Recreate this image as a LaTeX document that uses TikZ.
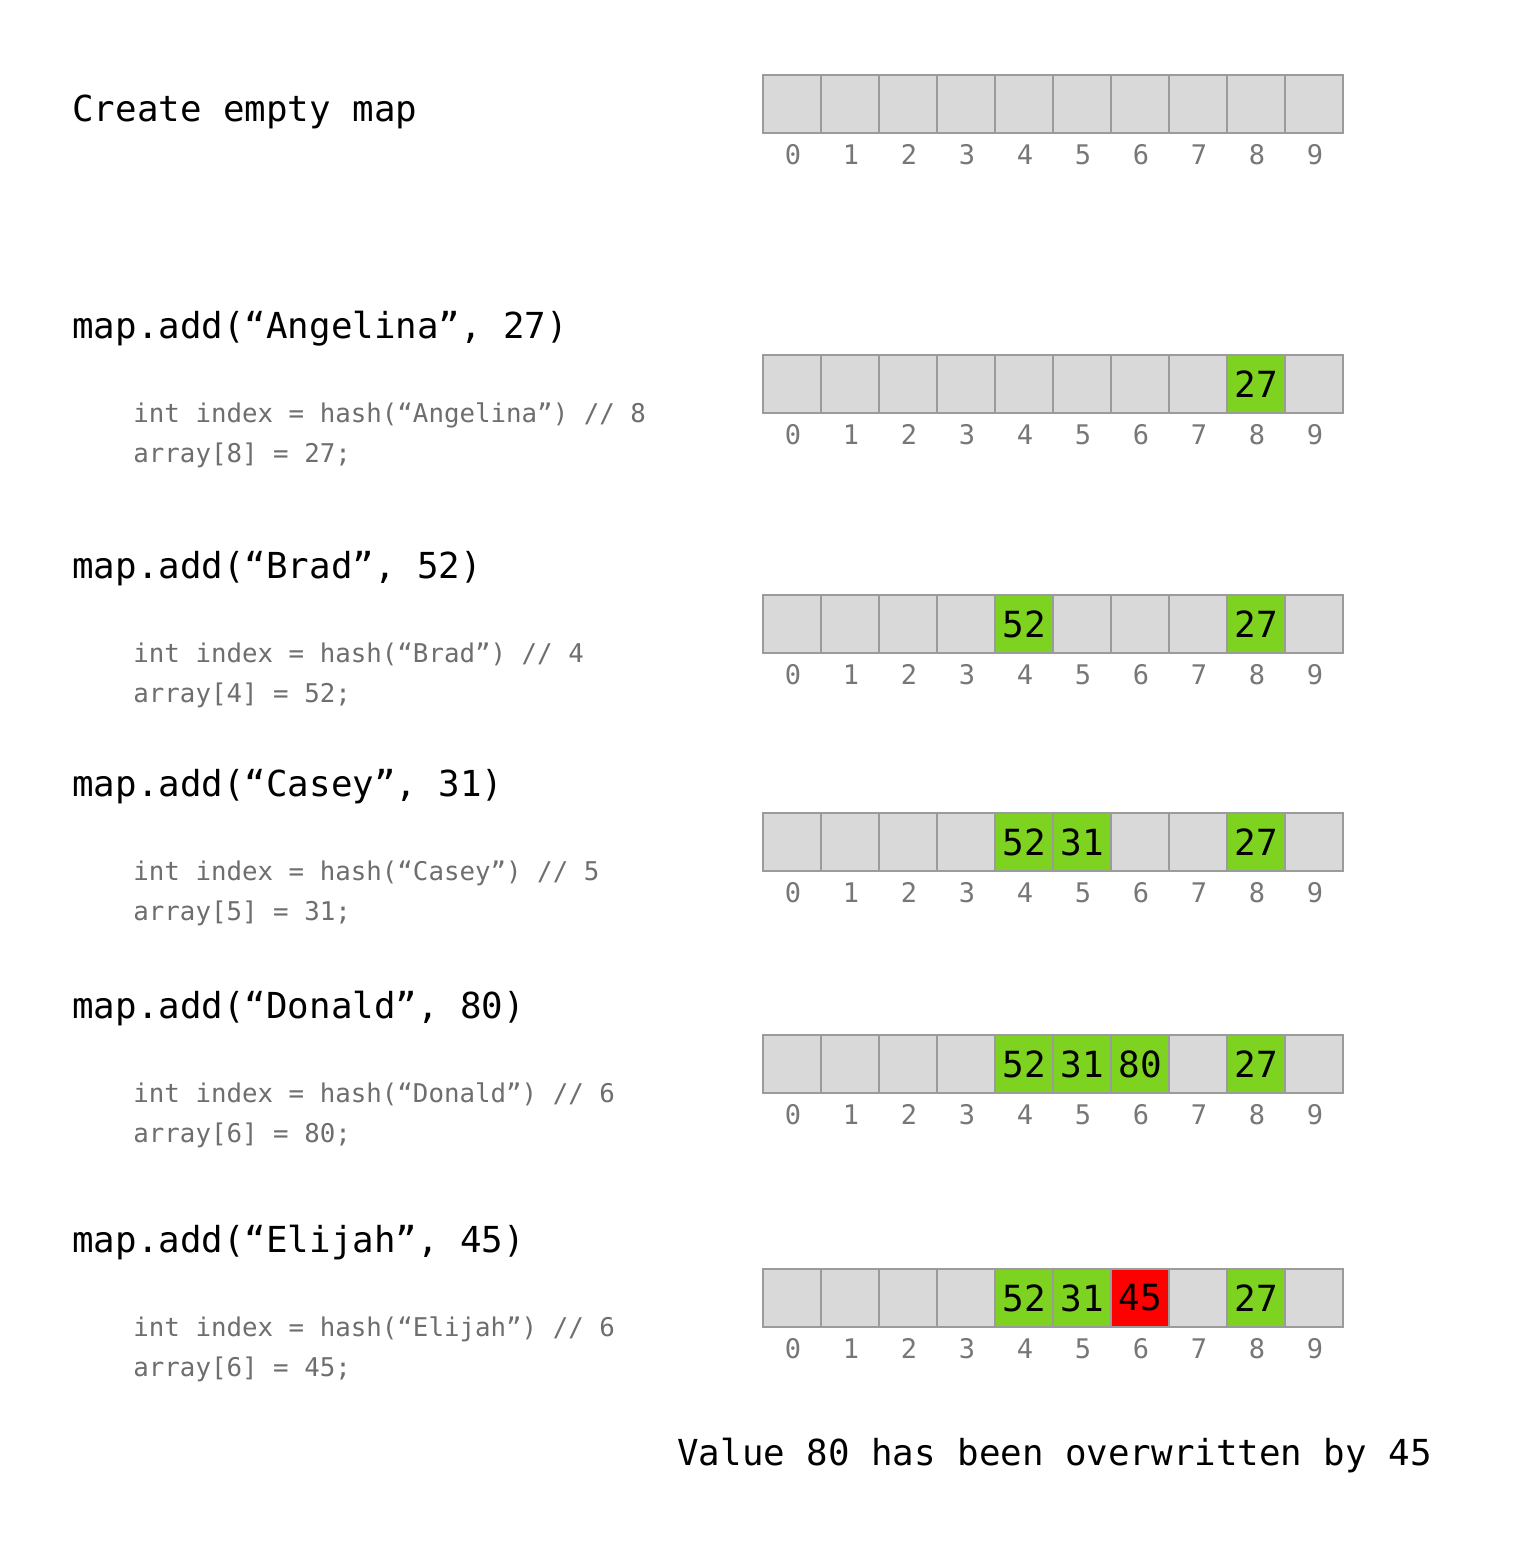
\documentclass[tikz,border=0pt]{standalone}
\usepackage{fontspec}
\setmonofont{DejaVu Sans Mono}
\definecolor{cellgray}{HTML}{D9D9D9}
\definecolor{cellborder}{HTML}{9B9B9B}
\definecolor{okgreen}{HTML}{7ED321}
\definecolor{badred}{HTML}{FF0000}
\definecolor{codegray}{HTML}{6E6E6E}
\definecolor{idxgray}{HTML}{777777}
\tikzset{
  cell/.style={draw=cellborder, line width=1pt, fill=cellgray, minimum width=29pt, minimum height=29pt, inner sep=0pt, font=\ttfamily\fontsize{18}{20}\selectfont, text=black},
  greencell/.style={cell, fill=okgreen},
  redcell/.style={cell, fill=badred},
  idx/.style={anchor=base, inner sep=0pt, text=idxgray, font=\ttfamily\fontsize{13.5}{15}\selectfont},
  title/.style={anchor=base west, inner sep=0pt, text=black, font=\ttfamily\fontsize{17.9}{20}\selectfont},
  code/.style={anchor=base west, inner sep=0pt, text=codegray, font=\ttfamily\fontsize{12.9}{15}\selectfont},
}
\begin{document}
\begin{tikzpicture}[x=0.5pt,y=-0.5pt]
\useasboundingbox[fill=white] (0,0) rectangle (1522,1552);
% grids
\foreach \r/\t in {1/75,2/355,3/595,4/813,5/1035,6/1269}{
  \foreach \i in {0,...,9}{
    \node[cell] (c\r-\i) at ({763+58*\i+29},{\t+29}) {};
    \node[idx] (l\r-\i) at ({793+58*\i},{\t+89}) {\i};
  }
}
% filled cells
\node[greencell] (v2-8) at (c2-8) {27};
\node[greencell] (v3-4) at (c3-4) {52};
\node[greencell] (v3-8) at (c3-8) {27};
\node[greencell] (v4-4) at (c4-4) {52};
\node[greencell] (v4-5) at (c4-5) {31};
\node[greencell] (v4-8) at (c4-8) {27};
\node[greencell] (v5-4) at (c5-4) {52};
\node[greencell] (v5-5) at (c5-5) {31};
\node[greencell] (v5-6) at (c5-6) {80};
\node[greencell] (v5-8) at (c5-8) {27};
\node[greencell] (v6-4) at (c6-4) {52};
\node[greencell] (v6-5) at (c6-5) {31};
\node[redcell]   (v6-6) at (c6-6) {45};
\node[greencell] (v6-8) at (c6-8) {27};
% titles
\node[title] (t1) at (72,121) {Create empty map};
\node[title] (t2) at (72,338) {map.add(“Angelina”, 27)};
\node[title] (t3) at (72,578) {map.add(“Brad”, 52)};
\node[title] (t4) at (72,796) {map.add(“Casey”, 31)};
\node[title] (t5) at (72,1018) {map.add(“Donald”, 80)};
\node[title] (t6) at (72,1252) {map.add(“Elijah”, 45)};
% code
\node[code] (k2a) at (133,422) {int index = hash(“Angelina”) // 8};
\node[code] (k2b) at (133,462) {array[8] = 27;};
\node[code] (k3a) at (133,662) {int index = hash(“Brad”) // 4};
\node[code] (k3b) at (133,702) {array[4] = 52;};
\node[code] (k4a) at (133,880) {int index = hash(“Casey”) // 5};
\node[code] (k4b) at (133,920) {array[5] = 31;};
\node[code] (k5a) at (133,1102) {int index = hash(“Donald”) // 6};
\node[code] (k5b) at (133,1142) {array[6] = 80;};
\node[code] (k6a) at (133,1336) {int index = hash(“Elijah”) // 6};
\node[code] (k6b) at (133,1376) {array[6] = 45;};
% footer
\node[title] (foot) at (677,1465) {Value 80 has been overwritten by 45};
\end{tikzpicture}
\end{document}
